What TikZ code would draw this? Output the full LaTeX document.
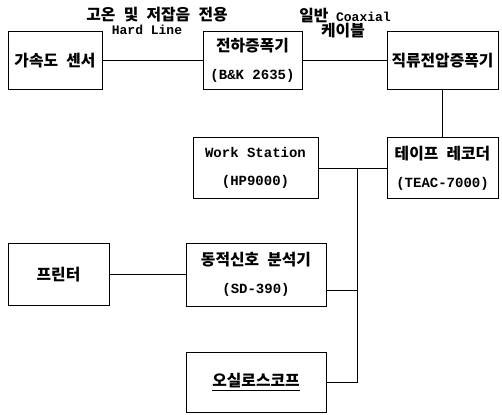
\documentclass[tikz,border=0pt]{standalone}
\usepackage{fontspec}
\setmainfont{Liberation Mono}
\newfontfamily\kr{Noto Sans CJK KR Bold}[WordSpace=2.3]
\newcommand\krt[1]{{\kr\fontsize{15.8}{28}\selectfont #1}}
\begin{document}
\begin{tikzpicture}[x=1pt,y=-1pt,
  box/.style={draw, line width=0.9pt, inner sep=0pt, align=center,
    font=\bfseries\fontsize{14}{28}\selectfont},
  wire/.style={line width=0.7pt},
  lbl/.style={inner sep=0pt, font=\bfseries\fontsize{13}{15}\selectfont}]
\useasboundingbox (0,0) rectangle (502,414);
\node[box, minimum width=94pt, minimum height=58pt] (acc) at (55,60.5) {\krt{가속도 센서}};
\node[box, minimum width=99pt, minimum height=58pt] (amp) at (252.5,60.5) {\krt{전하증폭기}\\(B\&K 2635)};
\node[box, minimum width=111pt, minimum height=58pt] (dc) at (442.5,60.5) {\krt{직류전압증폭기}};
\node[box, minimum width=125pt, minimum height=61pt] (ws) at (255.5,168) {Work Station\\(HP9000)};
\node[box, minimum width=111pt, minimum height=61pt] (tape) at (442.5,168) {\krt{테이프 레코더}\\(TEAC-7000)};
\node[box, minimum width=101pt, minimum height=62pt] (pr) at (58.5,274.5) {\krt{프린터}};
\node[box, minimum width=140pt, minimum height=63pt] (an) at (256,274.5) {\krt{동적신호 분석기}\\(SD-390)};
\node[box, minimum width=140pt, minimum height=60pt] (osc) at (256,382) {\underline{\krt{오실로스코프}}};
\node[lbl] (l1) at (157,15) {\krt{고온 및 저잡음 전용}};
\node[lbl] (l2) at (147,30) {Hard Line};
\node[lbl] (l3) at (345,16) {\krt{일반} Coaxial};
\node[lbl] (l4) at (343,31) {\krt{케이블}};
\draw[wire] (acc.east) -- (amp.west);
\draw[wire] (amp.east) -- (dc.west);
\draw[wire] (dc.south) -- (tape.north);
\draw[wire] (ws.east) -- (tape.west);
\coordinate (J) at (357,168);
\draw[wire] (J) |- (osc.east);
\draw[wire] ([yshift=-16pt]an.east) -- ([yshift=-16pt]an.east -| J);
\draw[wire] (pr.east) -- (an.west);
\end{tikzpicture}
\end{document}
